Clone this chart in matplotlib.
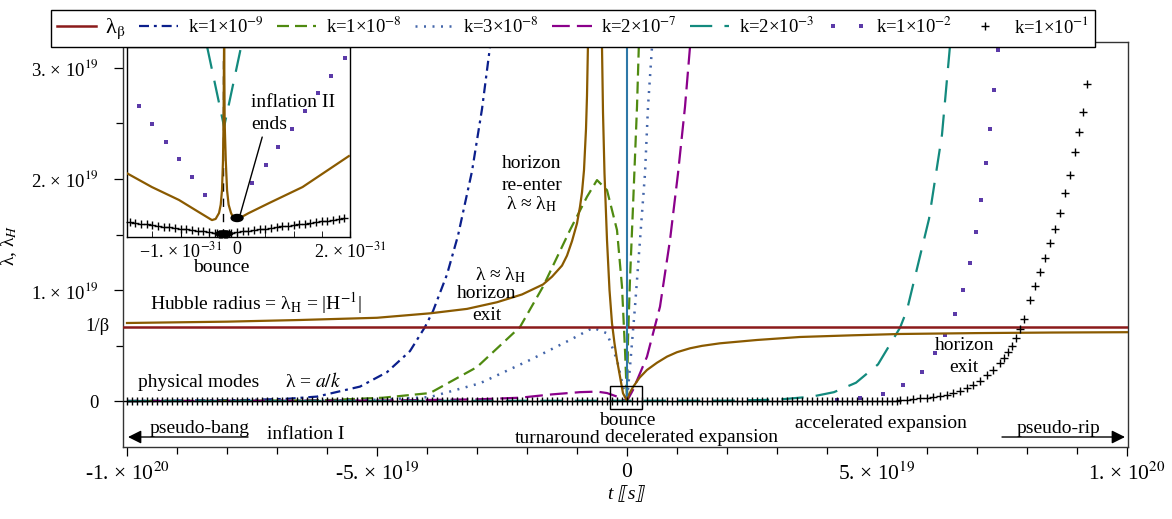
import numpy as np
import matplotlib
matplotlib.use('Agg')
import matplotlib.pyplot as plt
from matplotlib.patches import Ellipse, Rectangle
from matplotlib.legend_handler import HandlerLine2D

plt.rcParams['font.family'] = ['Liberation Serif', 'DejaVu Serif']
plt.rcParams['mathtext.fontset'] = 'stix'

E19 = 1e19   # main plot units: t and lambda in 1e19
E31 = 1e-31  # inset time unit

# ---- main plot data (t in 1e19 s, lambda in 1e19) ----
inv_beta = 0.667

hub_left_t = [-10, -8, -6.54, -5, -3.94, -3.2, -2.6, -2.1, -1.68, -1.5, -1.3, -1.2, -1.1, -1.0,
              -0.94, -0.9, -0.86, -0.82, -0.8, -0.78, -0.77]
hub_left_y = [0.703, 0.715, 0.73, 0.75, 0.79, 0.83, 0.89, 0.96, 1.05, 1.12, 1.22, 1.31, 1.44, 1.6,
              1.75, 1.88, 2.08, 2.45, 2.75, 3.23, 3.5]
hub_right_t = [-0.52, -0.5, -0.48, -0.45, -0.4, -0.35, -0.3, -0.25, -0.2, -0.14, -0.08, 0.0,
               0.04, 0.12, 0.25, 0.4, 0.6, 0.8, 1.0, 1.26, 1.5, 1.86, 2.6, 3.46, 4.5, 5.46,
               7, 8.5, 10]
hub_right_y = [3.5, 3.19, 2.6, 2.05, 1.45, 1.0, 0.70, 0.52, 0.37, 0.22, 0.07, 0.0,
               0.06, 0.126, 0.21, 0.28, 0.345, 0.40, 0.44, 0.475, 0.497, 0.52, 0.55, 0.577,
               0.592, 0.604, 0.612, 0.617, 0.62]

k9_t = [-10, -7.6, -6.8, -6.2, -5.34, -4.8, -4.34, -4.04, -3.88, -3.6, -3.38, -3.1, -2.9, -2.74, -2.6]
k9_y = [0.0, 0.009, 0.02, 0.04, 0.13, 0.26, 0.45, 0.667, 0.81, 1.14, 1.49, 2.07, 2.63, 3.19, 3.7]

k8_t = [-10, -6.5, -5.88, -4.88, -3.94, -3.0, -2.14, -1.68, -1.14, -0.8, -0.6, -0.4, -0.2, -0.1,
        -0.04, 0.0, 0.02, 0.06, 0.12, 0.2, 0.25]
k8_y = [0.0, 0.005, 0.01, 0.03, 0.072, 0.306, 0.667, 1.03, 1.54, 1.84, 1.99, 1.9, 1.54, 1.03,
        0.46, 0.0, 0.55, 1.1, 1.75, 2.65, 3.4]

k38_t = [-10, -6, -4.94, -3.94, -2.94, -1.94, -1.14, -0.68, -0.4, -0.2, -0.08, 0.0,
         0.06, 0.16, 0.26, 0.36, 0.42, 0.5, 0.54]
k38_y = [0.0, 0.004, 0.012, 0.036, 0.16, 0.37, 0.55, 0.66, 0.61, 0.37, 0.13, 0.0,
         0.31, 0.85, 1.45, 2.05, 2.65, 3.19, 3.5]

k27_t = [-10, -5, -3, -2.14, -1.5, -0.94, -0.6, -0.4, -0.2, -0.08, 0.0, 0.12, 0.4, 0.66, 0.86,
         1.02, 1.16, 1.26, 1.3]
k27_y = [0.0, 0.004, 0.015, 0.03, 0.06, 0.08, 0.085, 0.072, 0.04, 0.01, 0.0, 0.1, 0.4, 0.85, 1.45,
         2.05, 2.65, 3.19, 3.4]

k23_t = [-10, 2.0, 3.0, 3.7, 4.14, 4.58, 5.02, 5.46, 5.6, 6.04, 6.3, 6.48, 6.6]
k23_y = [0.0, 0.003, 0.012, 0.04, 0.08, 0.165, 0.33, 0.66, 0.82, 1.64, 2.4, 3.3, 3.9]

k12_t = [4.2, 4.66, 5.12, 5.52, 5.9, 6.16, 6.36, 6.56, 6.72, 6.86, 6.98, 7.08, 7.18, 7.26, 7.34, 7.42]
k12_y = [0.01, 0.023, 0.063, 0.144, 0.26, 0.43, 0.595, 0.78, 1.0, 1.24, 1.525, 1.81, 2.14, 2.45, 2.8, 3.16]

k11_flat_t = np.arange(-10, 5.41, 0.1)
k11_flat_y = np.zeros(len(k11_flat_t))
k11_rise_t = [5.46, 5.6, 5.72, 5.86, 6.0, 6.12, 6.26, 6.4, 6.52, 6.66, 6.8, 6.92, 7.06, 7.2, 7.32,
              7.46, 7.54, 7.62, 7.7, 7.78, 7.86, 7.94, 8.06, 8.16, 8.26, 8.36, 8.46, 8.56,
              8.66, 8.76, 8.86, 8.96, 9.04, 9.12, 9.2]
k11_rise_y = [0.005, 0.009, 0.014, 0.023, 0.027, 0.036, 0.045, 0.054, 0.072, 0.09, 0.117, 0.144,
              0.18, 0.234, 0.28, 0.34, 0.387, 0.44, 0.5, 0.569, 0.647, 0.74, 0.91, 1.04, 1.16,
              1.29, 1.42, 1.55, 1.69, 1.87, 2.04, 2.24, 2.42, 2.6, 2.86]

bounce_line_t = [0.0, 0.0]
bounce_line_y = [0.05, 3.4]

# ---- inset data (t in 1e-31 s, arbitrary lambda units) ----
in_hub_t = [-1.96, -1.51, -1.03, -0.7, -0.445, -0.38, -0.32, -0.29, -0.267, -0.25, -0.24, -0.23,
            -0.22, -0.2, -0.178, -0.15, -0.107, -0.06, -0.018, 0.2, 0.57, 1.16, 1.98]
in_hub_y = [0.337, 0.263, 0.195, 0.135, 0.089, 0.095, 0.126, 0.17, 0.247, 0.4, 0.6, 1.05,
            0.6, 0.4, 0.247, 0.17, 0.126, 0.098, 0.089, 0.125, 0.179, 0.263, 0.426]

in_cross_t = [-1.9, -1.8, -1.7, -1.6, -1.5, -1.4, -1.3, -1.2, -1.1, -1.0, -0.9, -0.8, -0.7, -0.6,
              -0.5, -0.4, -0.35, -0.32, -0.3, -0.28, -0.26, -0.24, -0.22, -0.2, -0.18, -0.15,
              -0.1, 0.0, 0.1, 0.2, 0.3, 0.4, 0.5, 0.6, 0.7, 0.8, 0.9, 1.0, 1.1, 1.2, 1.3, 1.4,
              1.5, 1.6, 1.7, 1.8, 1.9]
in_cross_y = [0.077, 0.073, 0.070, 0.066, 0.062, 0.059, 0.055, 0.051, 0.048, 0.044, 0.040, 0.036,
              0.033, 0.029, 0.025, 0.022, 0.020, 0.018, 0.018, 0.017, 0.016, 0.016, 0.016, 0.017,
              0.018, 0.019, 0.022, 0.026, 0.029, 0.033, 0.037, 0.041, 0.044, 0.048, 0.052, 0.056,
              0.060, 0.064, 0.067, 0.071, 0.075, 0.079, 0.083, 0.086, 0.090, 0.094, 0.098]

in_dots_t = [-1.96, -1.73, -1.51, -1.26, -1.03, -0.80, -0.57, 0.267, 0.516, 0.73, 0.98, 1.21,
             1.44, 1.67, 1.92]
in_dots_y = [0.784, 0.689, 0.595, 0.5, 0.41, 0.316, 0.221, 0.284, 0.379, 0.474, 0.568, 0.663,
             0.758, 0.847, 0.942]

in_teal_t = [-0.53, -0.23, 0.07]
in_teal_y = [1.0, 0.58, 1.0]

in_vline_t = [-0.25, -0.25]
in_vline_y = [0.0, 0.95]

# ---- colours ----
c_red = '#8b1a1a'
c_brown = '#8a5a00'
c_navy = '#0b1f8c'
c_green = '#4f8a10'
c_slate = '#4466aa'
c_purple = '#8b008b'
c_teal = '#138a7e'
c_violet = '#5b3aa8'
c_steel = '#2e78a8'

fig = plt.figure(figsize=(11.72, 5.19), dpi=100)
ax = fig.add_axes([123 / 1172, 1 - 447 / 519, 1005 / 1172, 405 / 519])
ax.set_xlim(-10.08 * E19, 10.02 * E19)
ax.set_ylim(-0.414 * E19, 3.234 * E19)

t = lambda v: np.asarray(v, dtype=float) * E19

ax.plot(t(hub_left_t), t(hub_left_y), color=c_brown, lw=1.6, zorder=3)
ax.plot(t(hub_right_t), t(hub_right_y), color=c_brown, lw=1.6, zorder=3)
l_beta = ax.axhline(inv_beta * E19, color=c_red, lw=1.8, zorder=3)
l9, = ax.plot(t(k9_t), t(k9_y), color=c_navy, lw=1.6, ls=(0, (4.5, 2.2, 1.3, 2.2)), zorder=2)
l8, = ax.plot(t(k8_t), t(k8_y), color=c_green, lw=1.6, ls=(0, (5.4, 2.7)), zorder=2)
l38, = ax.plot(t(k38_t), t(k38_y), color=c_slate, lw=1.8, ls=(0, (0.8, 2.6)), zorder=2)
l27, = ax.plot(t(k27_t), t(k27_y), color=c_purple, lw=1.6, ls=(0, (8, 3.2)), zorder=2)
l23, = ax.plot(t(k23_t), t(k23_y), color=c_teal, lw=1.6, ls=(0, (10, 5.5)), zorder=2)
l12, = ax.plot(t(k12_t), t(k12_y), color=c_violet, ls='none', marker='s', ms=2.8, mew=0, zorder=2)
ax.plot(t(bounce_line_t), t(bounce_line_y), color=c_steel, lw=1.5, zorder=4)
ax.plot(t(k11_flat_t), t(k11_flat_y), color='k', ls='none', marker='+', ms=6, mew=1.0, zorder=5)
l11, = ax.plot(t(k11_rise_t), t(k11_rise_y), color='k', ls='none', marker='+', ms=6, mew=1.0, zorder=5)

ax.add_patch(Rectangle((-0.34 * E19, -0.072 * E19), 0.64 * E19, 0.207 * E19,
                       fill=False, ec='k', lw=1.0, zorder=6))

# axes styling
for s in ax.spines.values():
    s.set_linewidth(1.0)
    s.set_color('#333333')
ax.set_xticks([-1e20, -5e19, 0, 5e19, 1e20])
ax.set_xticklabels(['-1. × 10$^{20}$', '-5. × 10$^{19}$', '0',
                    '5. × 10$^{19}$', '1. × 10$^{20}$'])
ax.set_xticks(np.arange(-1e20, 1.01e20, 1e19), minor=True)
ax.set_yticks([0, 1e19, 2e19, 3e19])
ax.set_yticklabels(['0', '1. × 10$^{19}$', '2. × 10$^{19}$', '3. × 10$^{19}$'])
ax.set_yticks([5e18, 1.5e19, 2.5e19], minor=True)
ax.tick_params(which='major', direction='out', length=6.5, width=0.9)
ax.tick_params(which='minor', direction='out', length=5, width=0.9)
ax.tick_params(axis='x', which='major', labelsize=15.5, pad=5)
ax.tick_params(axis='y', which='major', labelsize=13.5, pad=11)
ax.text(-0.013, inv_beta * E19, '1/β', transform=ax.get_yaxis_transform(),
        ha='right', va='center', fontsize=13.5)

ax.set_ylabel(r'λ, λ$_{H}$', fontsize=14)
ax.yaxis.set_label_coords(-0.1035, 0.499)
ax.set_xlabel('t ⟦s⟧', fontsize=14, style='italic',
              family=['Liberation Serif', 'DejaVu Sans'])
ax.xaxis.set_label_coords(0.5015, -0.095)

fs = 14
def txt(x, y, s, ha='left'):
    ax.text(x * E19, y * E19, s, fontsize=fs, ha=ha, va='baseline', zorder=7)

txt(-9.54, 0.82, r'Hubble radius = λ$_\mathrm{H}$ = |H$^{-1}$|')
txt(-9.78, 0.126, 'physical modes')
txt(-6.84, 0.126, r'λ = $a/k$')
txt(-2.52, 1.09, r'λ ≈ λ$_\mathrm{H}$', ha='center')
txt(-2.8, 0.93, 'horizon', ha='center')
txt(-2.8, 0.73, 'exit', ha='center')
txt(-1.9, 2.1, 'horizon', ha='center')
txt(-1.9, 1.9, 're-enter', ha='center')
txt(-1.9, 1.73, r'λ ≈ λ$_\mathrm{H}$', ha='center')
txt(6.76, 0.46, 'horizon', ha='center')
txt(6.74, 0.26, 'exit', ha='center')
txt(0.0, -0.216, 'bounce', ha='center')
txt(-2.24, -0.378, 'turnaround')
txt(-0.44, -0.37, 'decelerated expansion')
txt(3.36, -0.243, 'accelerated expansion')
txt(-7.2, -0.345, 'inflation I')
txt(-9.54, -0.288, 'pseudo-bang')
txt(7.8, -0.288, 'pseudo-rip')
arr = dict(arrowstyle='-|>', color='k', lw=1.0, mutation_scale=20, shrinkA=0, shrinkB=0)
ax.annotate('', xy=(-9.98 * E19, -0.324 * E19), xytext=(-7.58 * E19, -0.324 * E19), arrowprops=arr)
ax.annotate('', xy=(9.96 * E19, -0.324 * E19), xytext=(7.5 * E19, -0.324 * E19), arrowprops=arr)

# ---- legend ----
handles = [l_beta, l9, l8, l38, l27, l23, l12, l11]
labels = [r'λ$_\mathrm{β}$', 'k=1×10$^{-9}$', 'k=1×10$^{-8}$', 'k=3×10$^{-8}$',
          'k=2×10$^{-7}$', 'k=2×10$^{-3}$', 'k=1×10$^{-2}$', 'k=1×10$^{-1}$']
leg = fig.legend(handles, labels, loc='upper center', bbox_to_anchor=(0.489, 0.998), ncol=8,
                 fontsize=13.5, frameon=True, fancybox=False, edgecolor='k', framealpha=1,
                 handlelength=2.1, handletextpad=0.5, columnspacing=0.7, borderpad=0.3,
                 numpoints=1, handler_map={l12: HandlerLine2D(numpoints=2)})
leg.get_frame().set_linewidth(1.0)
leg.get_texts()[0].set_fontsize(16)

# ---- inset ----
axin = fig.add_axes([127 / 1172, 1 - 237 / 519, 223 / 1172, 190 / 519])
axin.set_xlim(-1.95 * E31, 2.0 * E31)
axin.set_ylim(0, 1)
ti = lambda v: np.asarray(v, dtype=float) * E31
axin.plot(ti(in_vline_t), in_vline_y, color='k', lw=1.0, ls=(0, (6, 5)), zorder=1)
axin.plot(ti(in_teal_t), in_teal_y, color=c_teal, lw=1.6, ls=(0, (10, 5.5)), zorder=2)
axin.plot(ti(in_dots_t), in_dots_y, color=c_violet, ls='none', marker='s', ms=2.8, mew=0, zorder=2)
axin.plot(ti(in_hub_t), in_hub_y, color=c_brown, lw=1.6, zorder=3)
axin.plot(ti(in_cross_t), in_cross_y, color='k', ls='none', marker='+', ms=6, mew=1.0, zorder=4,
          clip_on=False)
axin.add_patch(Ellipse((0.0, 0.1), 0.21 * E31, 0.037, color='k', zorder=5))
axin.add_patch(Ellipse((-0.23 * E31, 0.017), 0.3 * E31, 0.03, color='k', zorder=5))
axin.annotate('', xy=(0.053 * E31, 0.116), xytext=(0.445 * E31, 0.526),
              arrowprops=dict(arrowstyle='-', color='k', lw=1.0, shrinkA=0, shrinkB=0))
axin.text(0.25 * E31, 0.684, 'inflation II', fontsize=14, va='baseline')
axin.text(0.25 * E31, 0.568, 'ends', fontsize=14, va='baseline')
axin.text(-0.28 * E31, -0.184, 'bounce', fontsize=14, ha='center', va='baseline', clip_on=False)
axin.set_yticks([])
axin.set_xticks([-1e-31, 0, 2e-31])
axin.set_xticklabels(['−1. × 10$^{-31}$', '0', '2. × 10$^{-31}$'])
axin.set_xticks(np.arange(-1.5e-31, 2.01e-31, 0.5e-31), minor=True)
axin.tick_params(which='both', direction='in', length=4, labelsize=13, pad=3)
for s in axin.spines.values():
    s.set_linewidth(1.0)
    s.set_color('k')

fig.savefig('out.png', dpi=100)
